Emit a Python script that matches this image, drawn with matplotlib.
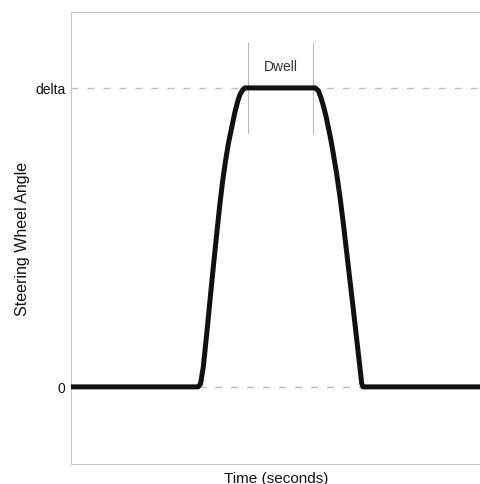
import matplotlib
matplotlib.use("Agg")
import matplotlib.pyplot as plt

plt.rcParams['font.family'] = ['Liberation Sans', 'DejaVu Sans']
plt.rcParams['lines.scale_dashes'] = False

# Steering profile (time units, normalised angle where delta = 1)
time = [0.0, 3.098, 3.160, 3.227, 3.310, 3.390, 3.471, 3.554, 3.630, 3.700,
        3.770, 3.840, 3.920, 4.000, 4.070, 4.122, 4.190, 4.240, 4.290,
        5.910, 5.960, 6.032, 6.090, 6.154, 6.220, 6.276, 6.340, 6.398,
        6.480, 6.561, 6.641, 6.720, 6.800, 6.885, 6.968, 7.049, 7.090,
        7.122, 10.0]
angle = [0.0, 0.0, 0.010, 0.067, 0.177, 0.289, 0.401, 0.512, 0.610, 0.690,
         0.757, 0.815, 0.868, 0.920, 0.957, 0.978, 0.994, 1.0, 1.0,
         1.0, 1.0, 0.991, 0.970, 0.941, 0.905, 0.868, 0.825, 0.780,
         0.712, 0.635, 0.548, 0.455, 0.360, 0.260, 0.160, 0.062, 0.012,
         0.0, 0.0]

ytick_vals = [0, 1]
ytick_labels = ["0", "delta"]
dwell_bounds = [4.32, 5.90]
dwell_label = "Dwell"

fig = plt.figure(figsize=(4.81, 4.85), dpi=100)
ax = fig.add_axes([71/481, 20/485, 410/481, 452/485])

for v in ytick_vals:
    ax.axhline(v, color="#bdbdbd", lw=1.0, dashes=(5, 6.5), zorder=1)

ax.plot(time, angle, color="#111111", lw=3.6, solid_joinstyle="round",
        solid_capstyle="butt", zorder=3)

for xb in dwell_bounds:
    ax.plot([xb, xb], [0.85, 1.15], color="#bbbbbb", lw=0.8, zorder=2)
ax.text(sum(dwell_bounds) / 2, 1.075, dwell_label, ha="center", va="center",
        fontsize=10, color="#333333")

ax.set_xlim(0, 10)
ax.set_ylim(-0.258, 1.254)
ax.set_xticks([])
ax.set_yticks(ytick_vals)
ax.set_yticklabels(ytick_labels, fontsize=10, color="#111111")
ax.tick_params(axis="y", length=0, pad=4)

for side in ["left", "bottom", "top"]:
    ax.spines[side].set_color("#c8c8c8")
    ax.spines[side].set_linewidth(0.8)
ax.spines["right"].set_visible(False)

ax.set_ylabel("Steering Wheel Angle", fontsize=11.5, color="#111111", labelpad=4)
ax.set_xlabel("Time (seconds)", fontsize=11, color="#111111", labelpad=5)

fig.savefig("out.png", dpi=100)
